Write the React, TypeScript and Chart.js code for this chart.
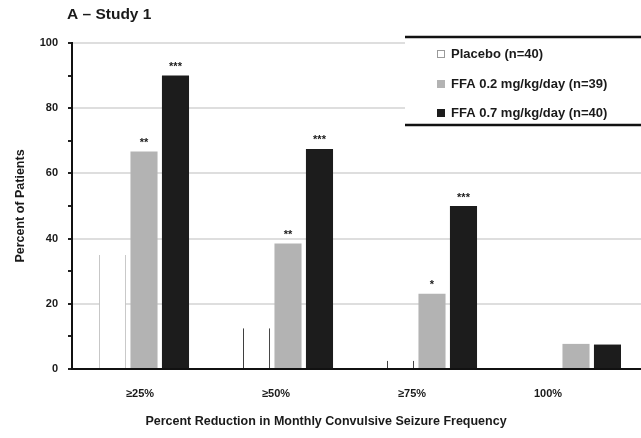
import React, { useEffect, useRef } from 'react';
import { Chart, registerables } from 'chart.js';

Chart.register(...registerables);

// Responder rates by reduction threshold
const categories = ['≥25%', '≥50%', '≥75%', '100%'];
const placebo = [35, 12.5, 2.5, 0];
const ffaLow = [66.7, 38.5, 23.1, 7.7];
const ffaHigh = [90, 67.5, 50, 7.5];

// Significance marks shown above each bar
const placeboMarks = ['', '', '', ''];
const ffaLowMarks = ['**', '**', '*', ''];
const ffaHighMarks = ['***', '***', '***', ''];

const seriesNames = ['Placebo (n=40)', 'FFA 0.2 mg/kg/day (n=39)', 'FFA 0.7 mg/kg/day (n=40)'];
const yMin = 0;
const yMax = 100;
const yLabelStep = 20;
const yMinorStep = 10;

const titleText = 'A – Study 1';
const yTitleText = 'Percent of Patients';
const xTitleText = 'Percent Reduction in Monthly Convulsive Seizure Frequency';

const FONT = "'Liberation Sans', Arial, Helvetica, sans-serif";
const CANVAS_W = 660;
const CANVAS_H = 438;

const marksBySeries = [placeboMarks, ffaLowMarks, ffaHighMarks];

const marksPlugin = {
  id: 'barMarks',
  afterDatasetsDraw(chart: any) {
    const ctx = chart.ctx;
    ctx.save();
    ctx.font = `bold 11px ${FONT}`;
    ctx.fillStyle = '#1a1a1a';
    ctx.textAlign = 'center';
    ctx.textBaseline = 'bottom';
    chart.data.datasets.forEach((_: any, i: number) => {
      const meta = chart.getDatasetMeta(i);
      meta.data.forEach((bar: any, j: number) => {
        const m = marksBySeries[i][j];
        if (m) ctx.fillText(m, bar.x, bar.y - 3);
      });
    });
    ctx.restore();
  },
};

const framePlugin = {
  id: 'frameText',
  afterDraw(chart: any) {
    const ctx = chart.ctx;
    const area = chart.chartArea;
    ctx.save();
    // panel title
    ctx.fillStyle = '#1a1a1a';
    ctx.font = `bold 15.5px ${FONT}`;
    ctx.textAlign = 'left';
    ctx.textBaseline = 'middle';
    ctx.fillText(titleText, area.left - 5, 15);

    // x-axis title
    ctx.font = `bold 12.5px ${FONT}`;
    ctx.textAlign = 'center';
    ctx.fillText(xTitleText, area.left + 254, 422);

    // legend panel with heavy top and bottom rules
    const lx = area.left + 333;
    const top = 37;
    const bottom = 125;
    ctx.fillStyle = '#ffffff';
    ctx.fillRect(lx, top, chart.width - lx, bottom - top);
    ctx.strokeStyle = '#111';
    ctx.lineWidth = 2.5;
    ctx.beginPath();
    ctx.moveTo(lx, top);
    ctx.lineTo(chart.width, top);
    ctx.moveTo(lx, bottom);
    ctx.lineTo(chart.width, bottom);
    ctx.stroke();

    const rows = [54, 84, 113];
    ctx.font = `bold 13px ${FONT}`;
    ctx.textAlign = 'left';
    ctx.textBaseline = 'middle';
    chart.data.datasets.forEach((ds: any, i: number) => {
      const y = rows[i];
      const sx = lx + 32;
      const fill = Array.isArray(ds.backgroundColor) ? ds.backgroundColor[0] : ds.backgroundColor;
      ctx.fillStyle = fill;
      ctx.fillRect(sx, y - 4, 8, 8);
      if (i === 0) {
        ctx.strokeStyle = '#9a9a9a';
        ctx.lineWidth = 1;
        ctx.strokeRect(sx + 0.5, y - 3.5, 7, 7);
      }
      ctx.fillStyle = '#1a1a1a';
      ctx.fillText(ds.label, sx + 14, y);
    });
    ctx.restore();
  },
};

export default function App() {
  const canvasRef = useRef<HTMLCanvasElement | null>(null);

  useEffect(() => {
    if (!canvasRef.current) return;
    const chart = new Chart(canvasRef.current, {
      type: 'bar',
      data: {
        labels: categories,
        datasets: [
          {
            label: seriesNames[0],
            data: placebo,
            backgroundColor: '#ffffff',
            borderColor: ['#c4c4c4', '#333333', '#333333', '#333333'],
            borderWidth: { left: 1, right: 1, top: 0, bottom: 0 },
            borderSkipped: false,
          },
          {
            label: seriesNames[1],
            data: ffaLow,
            backgroundColor: '#b3b3b3',
            borderWidth: 0,
          },
          {
            label: seriesNames[2],
            data: ffaHigh,
            backgroundColor: '#1c1c1c',
            borderWidth: 0,
          },
        ],
      },
      options: {
        animation: false,
        responsive: false,
        layout: { padding: { left: 0, top: 43, right: CANVAS_W - 648, bottom: 0 } },
        datasets: {
          bar: { categoryPercentage: 0.656, barPercentage: 0.86 },
        },
        plugins: {
          legend: { display: false },
          tooltip: { enabled: false },
          title: { display: false },
        },
        scales: {
          x: {
            type: 'category',
            display: false,
          },
          xl: {
            type: 'linear',
            position: 'bottom',
            offset: false,
            min: -0.5,
            max: 3.735,
            afterBuildTicks: (scale: any) => {
              scale.ticks = categories.map((_, i) => ({ value: i }));
            },
            afterFit: (scale: any) => {
              scale.height = CANVAS_H - 369;
            },
            grid: { display: false, drawTicks: false, offset: false },
            border: { display: true, color: '#111', width: 2 },
            ticks: {
              padding: 18,
              color: '#1a1a1a',
              font: { family: FONT, size: 11, weight: 'bold' },
              callback: (v: any) => categories[v] ?? '',
            },
          },
          y: {
            min: yMin,
            max: yMax,
            afterFit: (scale: any) => {
              scale.width = 72;
            },
            border: { display: true, color: '#111', width: 2 },
            grid: {
              color: (c: any) =>
                c.tick && c.tick.value > 0 && c.tick.value % yLabelStep === 0 ? '#dedede' : 'rgba(0,0,0,0)',
              lineWidth: 2,
              tickColor: '#222',
              tickLength: 4,
            },
            ticks: {
              stepSize: yMinorStep,
              autoSkip: false,
              padding: 10,
              color: '#1a1a1a',
              font: { family: FONT, size: 11, weight: 'bold' },
              callback: (v: any) => (v % yLabelStep === 0 ? String(v) : ''),
            },
            title: {
              display: true,
              text: yTitleText,
              color: '#1a1a1a',
              font: { family: FONT, size: 12.5, weight: 'bold' },
              padding: { top: 13, bottom: 0 },
            },
          },
        },
      } as any,
      plugins: [marksPlugin, framePlugin],
    });
    return () => chart.destroy();
  }, []);

  return (
    <div
      style={{
        position: 'fixed',
        left: 0,
        top: 0,
        width: 641,
        height: 438,
        overflow: 'hidden',
        background: '#ffffff',
      }}
    >
      <canvas ref={canvasRef} width={CANVAS_W} height={CANVAS_H} style={{ display: 'block' }} />
    </div>
  );
}
